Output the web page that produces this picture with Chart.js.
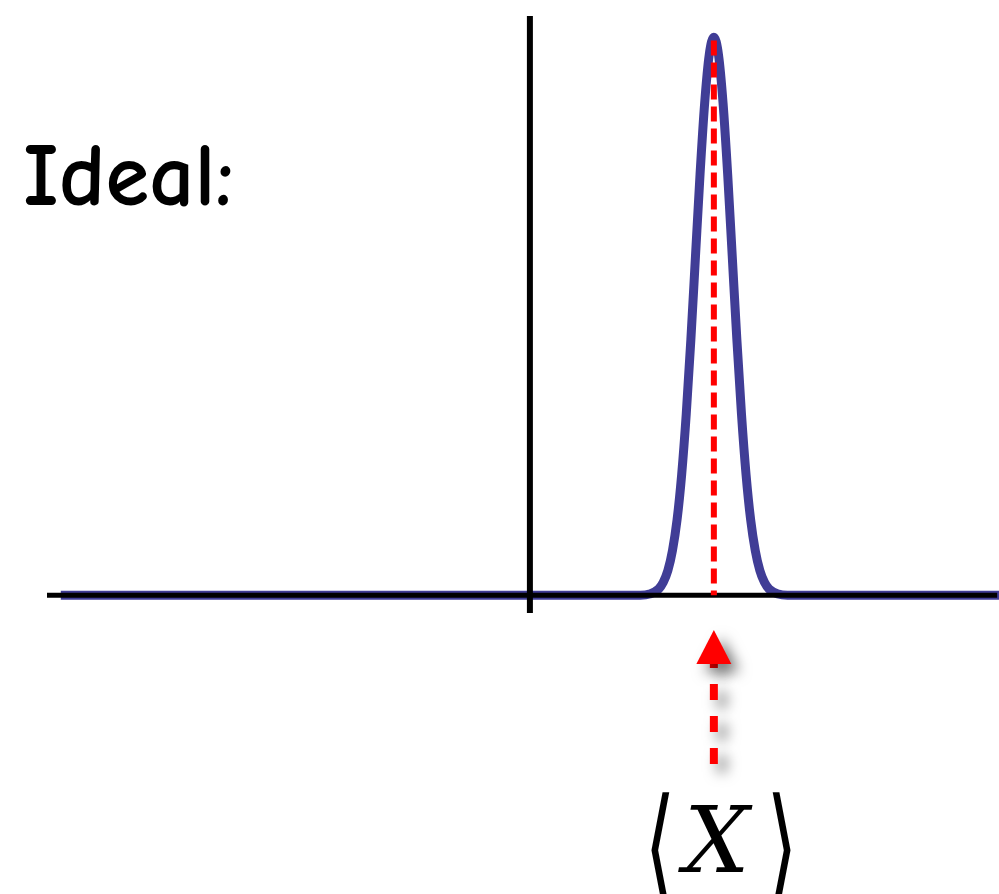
<!DOCTYPE html>
<html>
<head>
<meta charset="utf-8">
<title>Ideal distribution</title>
<script src="https://cdn.jsdelivr.net/npm/chart.js@4.4.1/dist/chart.umd.min.js"></script>
<style>
    html, body { margin: 0; padding: 0; background: #fff; }
    #wrap { width: 999px; height: 894px; position: relative; }
</style>
</head>
<body>
<div id="wrap"><canvas id="plot" width="999" height="894"></canvas></div>
<script>
// peak of the measured distribution (sampled along x, height relative to peak)
const curveX = [-5.1, 1.0, 1.2, 1.3, 1.4, 1.45, 1.5, 1.55, 1.6, 1.65, 1.7, 1.75, 1.8, 1.85, 1.9, 1.95, 2.0,
                2.05, 2.1, 2.15, 2.2, 2.25, 2.3, 2.35, 2.4, 2.45, 2.5, 2.55, 2.6, 2.7, 2.8, 3.0, 5.1];
const curveY = [0, 0, 0, 0.002, 0.011, 0.023, 0.044, 0.080, 0.135, 0.216, 0.325, 0.458, 0.607, 0.755, 0.882, 0.969, 1.0,
                0.969, 0.882, 0.755, 0.607, 0.458, 0.325, 0.216, 0.135, 0.080, 0.044, 0.023, 0.011, 0.002, 0, 0, 0];

const meanX = 2.0;        // <X>
const meanTop = 0.994;    // dashed marker stops just under the peak
const xRange = [-5.25, 5.1];
const yRange = [-0.032, 1.038];

const labelTitle = 'Ideal:';
const labelMean = 'X';

const BLUE = '#403d96';
const RED = '#ff0000';

const pts = (xs, ys) => xs.map((x, i) => ({x: x, y: ys[i]}));

// tall thin angle bracket, squeezed horizontally
function bracket(ctx, ch, x, y) {
    ctx.save();
    ctx.translate(x, y);
    ctx.scale(0.62, 1.0);
    ctx.font = '200 130px "DejaVu Sans", "DejaVu Serif", serif';
    ctx.fillText(ch, 0, 0);
    ctx.restore();
}

// arrow under the axis pointing up at the mean + text
const extras = {
    id: 'extras',
    afterDraw(chart) {
        const ctx = chart.ctx;
        const mx = chart.scales.x.getPixelForValue(meanX);

        ctx.save();
        ctx.shadowColor = 'rgba(0,0,0,0.55)';
        ctx.shadowBlur = 14;
        ctx.shadowOffsetX = 8;
        ctx.shadowOffsetY = 8;
        ctx.strokeStyle = RED;
        ctx.fillStyle = RED;
        ctx.lineWidth = 8;
        ctx.setLineDash([16, 16]);
        ctx.beginPath();
        ctx.moveTo(mx, 764);
        ctx.lineTo(mx, 662);
        ctx.stroke();
        ctx.setLineDash([]);
        ctx.beginPath();
        ctx.moveTo(mx, 630);
        ctx.lineTo(mx + 17.5, 664);
        ctx.lineTo(mx - 17.5, 664);
        ctx.closePath();
        ctx.fill();
        ctx.restore();

        ctx.save();
        ctx.fillStyle = '#000';
        ctx.textBaseline = 'alphabetic';
        ctx.font = 'bold 89px "Comic Sans MS", "Comic Neue", "DejaVu Sans", sans-serif';
        ctx.textAlign = 'left';
        ctx.fillText(labelTitle, 23, 205);

        ctx.textAlign = 'center';
        ctx.font = 'italic 92px "DejaVu Serif", "Liberation Serif", serif';
        ctx.fillText(labelMean, mx + 3, 872);
        bracket(ctx, '\u27E8', mx - 54, 891);
        bracket(ctx, '\u27E9', mx + 68, 891);
        ctx.restore();
    }
};

new Chart(document.getElementById('plot'), {
    type: 'line',
    data: {
        datasets: [
            {
                // dashed marker at the mean
                data: [{x: meanX, y: meanTop}, {x: meanX, y: 0}],
                borderColor: RED,
                borderWidth: 6,
                borderDash: [15, 7],
                order: 0
            },
            {
                // vertical axis
                data: [{x: 0, y: yRange[0]}, {x: 0, y: yRange[1]}],
                borderColor: '#000',
                borderWidth: 6,
                order: 1
            },
            {
                // horizontal axis
                data: [{x: xRange[0], y: 0}, {x: xRange[1] - 0.02, y: 0}],
                borderColor: '#000',
                borderWidth: 5,
                order: 1
            },
            {
                data: pts(curveX, curveY),
                borderColor: BLUE,
                borderWidth: 9,
                cubicInterpolationMode: 'monotone',
                borderJoinStyle: 'round',
                order: 2
            }
        ]
    },
    options: {
        responsive: false,
        animation: false,
        events: [],
        layout: {padding: {left: 47, right: 0, top: 16, bottom: 281}},
        elements: {point: {radius: 0}, line: {fill: false}},
        datasets: {line: {clip: false}},
        plugins: {legend: {display: false}, tooltip: {enabled: false}},
        scales: {
            x: {type: 'linear', min: xRange[0], max: xRange[1], display: false},
            y: {type: 'linear', min: yRange[0], max: yRange[1], display: false}
        }
    },
    plugins: [extras]
});
</script>
</body>
</html>
